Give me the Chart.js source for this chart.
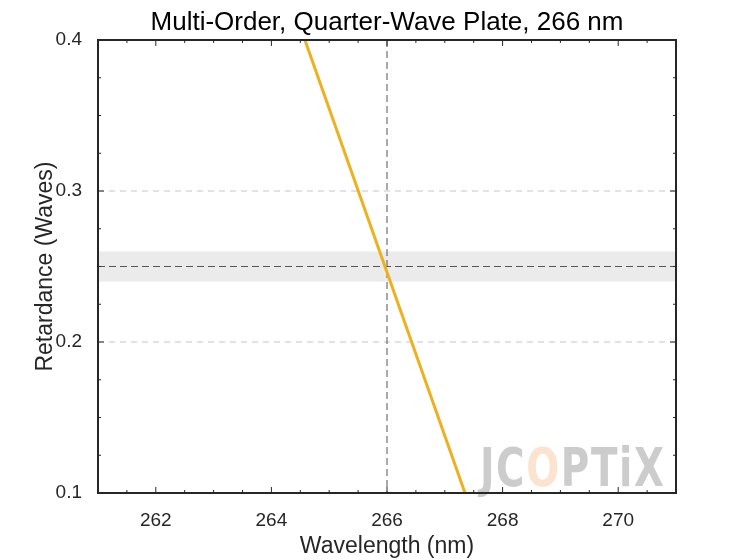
<!DOCTYPE html>
<html>
<head>
<meta charset="utf-8">
<script src="https://cdn.jsdelivr.net/npm/chart.js@4"></script>
<style>
  body { margin: 0; background: #fff; }
  #wrap { width: 747px; height: 560px; }
</style>
</head>
<body>
<div id="wrap"><canvas id="grafico"></canvas></div>
<script>
// Retardancia de una lámina de cuarto de onda multi-orden
const titulo = 'Multi-Order, Quarter-Wave Plate, 266 nm';
const longitudes = [264.58, 267.35];
const retardancia = [0.4, 0.1];
const ticksX = [262, 264, 266, 268, 270];
const ticksY = [0.1, 0.2, 0.3, 0.4];
const lineasGuia = [0.2, 0.3];
const banda = [0.24, 0.26];
const objetivoX = 266;
const objetivoY = 0.25;

const fuente = "'Liberation Sans', Arial, sans-serif";

// Decoraciones estilo MATLAB: banda, líneas de guía, marcas interiores y marca de agua
const decoracion = {
    id: 'decoracion',
    beforeDatasetsDraw(chart) {
        const { ctx, chartArea: a, scales: { x, y } } = chart;
        ctx.save();
        ctx.fillStyle = '#ebebeb';
        ctx.fillRect(a.left, y.getPixelForValue(banda[1]), a.right - a.left,
            y.getPixelForValue(banda[0]) - y.getPixelForValue(banda[1]));
        ctx.lineWidth = 1.5;
        ctx.strokeStyle = '#d9d9d9';
        ctx.setLineDash([6, 5]);
        lineasGuia.forEach(v => {
            const py = y.getPixelForValue(v);
            ctx.beginPath(); ctx.moveTo(a.left, py); ctx.lineTo(a.right, py); ctx.stroke();
        });
        ctx.lineWidth = 1;
        ctx.strokeStyle = '#555';
        ctx.setLineDash([7, 4]);
        const py = y.getPixelForValue(objetivoY);
        ctx.beginPath(); ctx.moveTo(a.left, py); ctx.lineTo(a.right, py); ctx.stroke();
        const px = x.getPixelForValue(objetivoX);
        ctx.beginPath(); ctx.moveTo(px, a.top); ctx.lineTo(px, a.bottom); ctx.stroke();
        ctx.setLineDash([]);
        // marca de agua (estrechada horizontalmente)
        ctx.translate(480, 486);
        ctx.scale(0.8, 1);
        ctx.font = "bold 54px 'DejaVu Sans Condensed', 'Liberation Sans Narrow', sans-serif";
        ctx.textBaseline = 'alphabetic';
        ctx.textAlign = 'left';
        let xx = 0;
        const letras = ['J', 'C', 'O', 'P', 'T', 'i', 'X'];
        letras.forEach((l, i) => {
            ctx.fillStyle = (i === 2) ? '#fbe3d0' : '#cccccc';
            ctx.fillText(l, xx, 0);
            xx += ctx.measureText(l).width + 2;
        });
        ctx.restore();
    },
    afterDraw(chart) {
        const { ctx, chartArea: a, scales: { x, y } } = chart;
        ctx.save();
        ctx.strokeStyle = '#262626';
        ctx.lineWidth = 1;
        for (let v = 261; v <= 271.001; v += 0.5) {
            const px = x.getPixelForValue(v);
            const len = Number.isInteger(v) && v % 2 === 0 ? 6 : 3;
            ctx.beginPath(); ctx.moveTo(px, a.bottom); ctx.lineTo(px, a.bottom - len); ctx.stroke();
            ctx.beginPath(); ctx.moveTo(px, a.top); ctx.lineTo(px, a.top + len); ctx.stroke();
        }
        for (let v = 0.1; v <= 0.4001; v += 0.025) {
            const py = y.getPixelForValue(v);
            const major = Math.abs(v * 10 - Math.round(v * 10)) < 1e-6;
            const len = major ? 6 : 3;
            ctx.beginPath(); ctx.moveTo(a.left, py); ctx.lineTo(a.left + len, py); ctx.stroke();
            ctx.beginPath(); ctx.moveTo(a.right, py); ctx.lineTo(a.right - len, py); ctx.stroke();
        }
        ctx.lineWidth = 2;
        ctx.strokeRect(a.left, a.top, a.right - a.left, a.bottom - a.top);
        // título centrado sobre el área del gráfico
        ctx.fillStyle = '#000';
        ctx.font = "26px " + fuente;
        ctx.textAlign = 'center';
        ctx.textBaseline = 'alphabetic';
        ctx.fillText(titulo, (a.left + a.right) / 2, 30);
        ctx.restore();
    }
};

new Chart(document.getElementById('grafico'), {
    type: 'line',
    data: {
        datasets: [{
            data: longitudes.map((l, i) => ({ x: l, y: retardancia[i] })),
            borderColor: '#edb120',
            borderWidth: 3,
            pointRadius: 0,
            tension: 0
        }]
    },
    options: {
        responsive: true,
        maintainAspectRatio: false,
        animation: false,
        layout: { padding: { left: 32, right: 71, top: 40, bottom: 0 } },
        plugins: {
            legend: { display: false },
            tooltip: { enabled: false },
            title: { display: false }
        },
        scales: {
            x: {
                type: 'linear', min: 261, max: 271,
                afterBuildTicks: s => { s.ticks = ticksX.map(v => ({ value: v })); },
                afterFit: s => { s.height = 67; },
                grid: { display: false },
                border: { display: false },
                ticks: { color: '#262626', font: { family: fuente, size: 19 }, padding: 8 },
                title: { display: true, text: 'Wavelength (nm)', color: '#262626',
                    font: { family: fuente, size: 23 }, padding: 0 }
            },
            y: {
                type: 'linear', min: 0.1, max: 0.4,
                afterBuildTicks: s => { s.ticks = ticksY.map(v => ({ value: v })); },
                afterFit: s => { s.width = 66; },
                grid: { display: false },
                border: { display: false },
                ticks: { color: '#262626', font: { family: fuente, size: 19 }, padding: 8,
                    callback: v => v.toFixed(1) },
                title: { display: true, text: 'Retardance (Waves)', color: '#262626',
                    font: { family: fuente, size: 23 }, padding: 0 }
            }
        }
    },
    plugins: [decoracion]
});
</script>
</body>
</html>
